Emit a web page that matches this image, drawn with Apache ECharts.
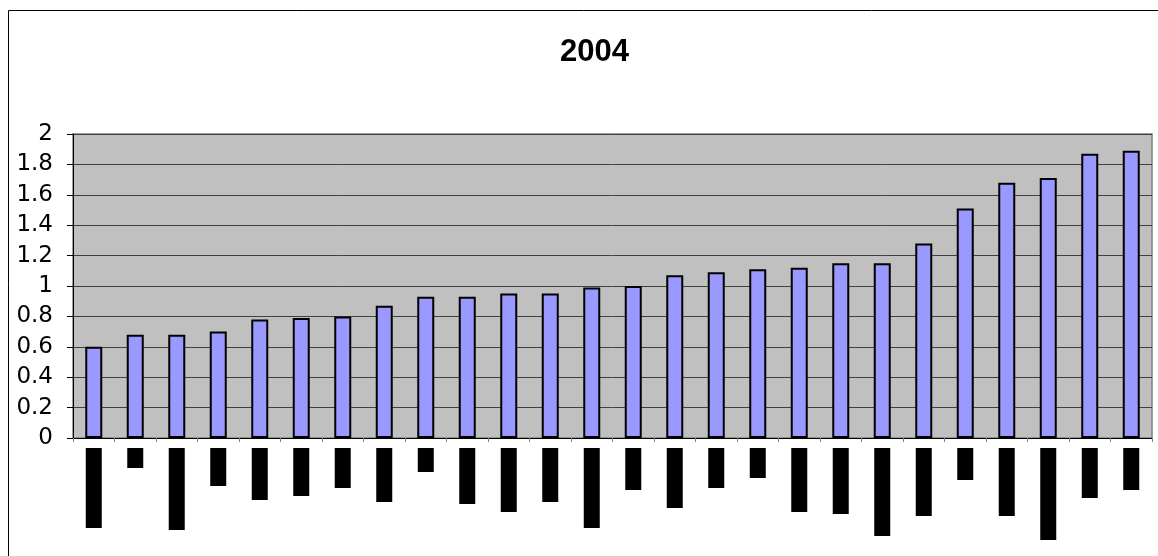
<!DOCTYPE html>
<html>
<head>
<meta charset="utf-8">
<title>2004</title>
<script src="https://cdn.jsdelivr.net/npm/echarts@6/dist/echarts.min.js"></script>
<style>
  html, body { margin: 0; padding: 0; background: #fff; }
  #chart { width: 1158px; height: 556px; }
</style>
</head>
<body>
<div id="chart"></div>
<script>
// 26 categories, sorted ascending by value
const categories = [
  'c01','c02','c03','c04','c05','c06','c07','c08','c09','c10','c11','c12','c13',
  'c14','c15','c16','c17','c18','c19','c20','c21','c22','c23','c24','c25','c26'
];
const values = [
  0.60, 0.68, 0.68, 0.70, 0.78, 0.79, 0.80, 0.87, 0.93, 0.93, 0.95, 0.95, 0.99,
  1.00, 1.07, 1.09, 1.11, 1.12, 1.15, 1.15, 1.28, 1.51, 1.68, 1.71, 1.87, 1.89
];
// lengths of the blacked-out category labels under the axis
const labelBlocks = [
  80, 20, 82, 38, 52, 48, 40, 54, 24, 56, 64, 54, 80,
  42, 60, 40, 30, 64, 66, 88, 68, 32, 68, 92, 50, 42
];
const yTicks = { min: 0, max: 2, interval: 0.2 };

const chart = echarts.init(document.getElementById('chart'), null, { renderer: 'canvas' });

const titleFont = 'Liberation Sans, Arial, sans-serif';
const labelFont = 'DejaVu Sans, Verdana, sans-serif';

chart.setOption({
  animation: false,
  backgroundColor: '#ffffff',
  title: {
    text: '2004',
    left: 555,
    top: 32,
    textStyle: { fontFamily: titleFont, fontSize: 31, fontWeight: 'bold', color: '#000' }
  },
  graphic: [{
    type: 'rect',
    shape: { x: 8.5, y: 10.5, width: 1200, height: 600 },
    style: { fill: 'none', stroke: '#000', lineWidth: 1 },
    silent: true,
    z: -10
  }],
  grid: [
    {
      left: 73, right: 6, top: 134, height: 304,
      show: true, backgroundColor: '#C0C0C0',
      borderColor: '#808080', borderWidth: 1.5
    },
    {
      left: 73, right: 6, top: 448, height: 100,
      show: false
    }
  ],
  xAxis: [
    {
      type: 'category', gridIndex: 0, data: categories,
      axisLine: { show: true, lineStyle: { color: '#000', width: 1 } },
      axisTick: { show: true, length: 4, inside: false, lineStyle: { color: '#808080' } },
      axisLabel: { show: false },
      splitLine: { show: false }
    },
    {
      type: 'category', gridIndex: 1, data: categories,
      axisLine: { show: false }, axisTick: { show: false },
      axisLabel: { show: false }, splitLine: { show: false }
    }
  ],
  yAxis: [
    {
      type: 'value', gridIndex: 0,
      min: yTicks.min, max: yTicks.max, interval: yTicks.interval,
      axisLine: { show: true, lineStyle: { color: '#000', width: 1 } },
      axisTick: { show: true, length: 6, lineStyle: { color: '#000' } },
      axisLabel: {
        fontFamily: labelFont, fontSize: 23, color: '#000', margin: 20,
        formatter: v => String(Math.round(v * 10) / 10)
      },
      splitLine: { show: true, lineStyle: { color: '#404040', width: 1 } }
    },
    {
      type: 'value', gridIndex: 1, inverse: true, min: 0, max: 100,
      show: false, splitLine: { show: false }
    }
  ],
  series: [
    {
      type: 'bar', xAxisIndex: 0, yAxisIndex: 0,
      data: values, barWidth: 17,
      itemStyle: { color: '#9999FF', borderColor: '#000', borderWidth: 2 }
    },
    {
      type: 'bar', xAxisIndex: 1, yAxisIndex: 1,
      data: labelBlocks, barWidth: 16,
      itemStyle: { color: '#000' }
    }
  ]
});
</script>
</body>
</html>
